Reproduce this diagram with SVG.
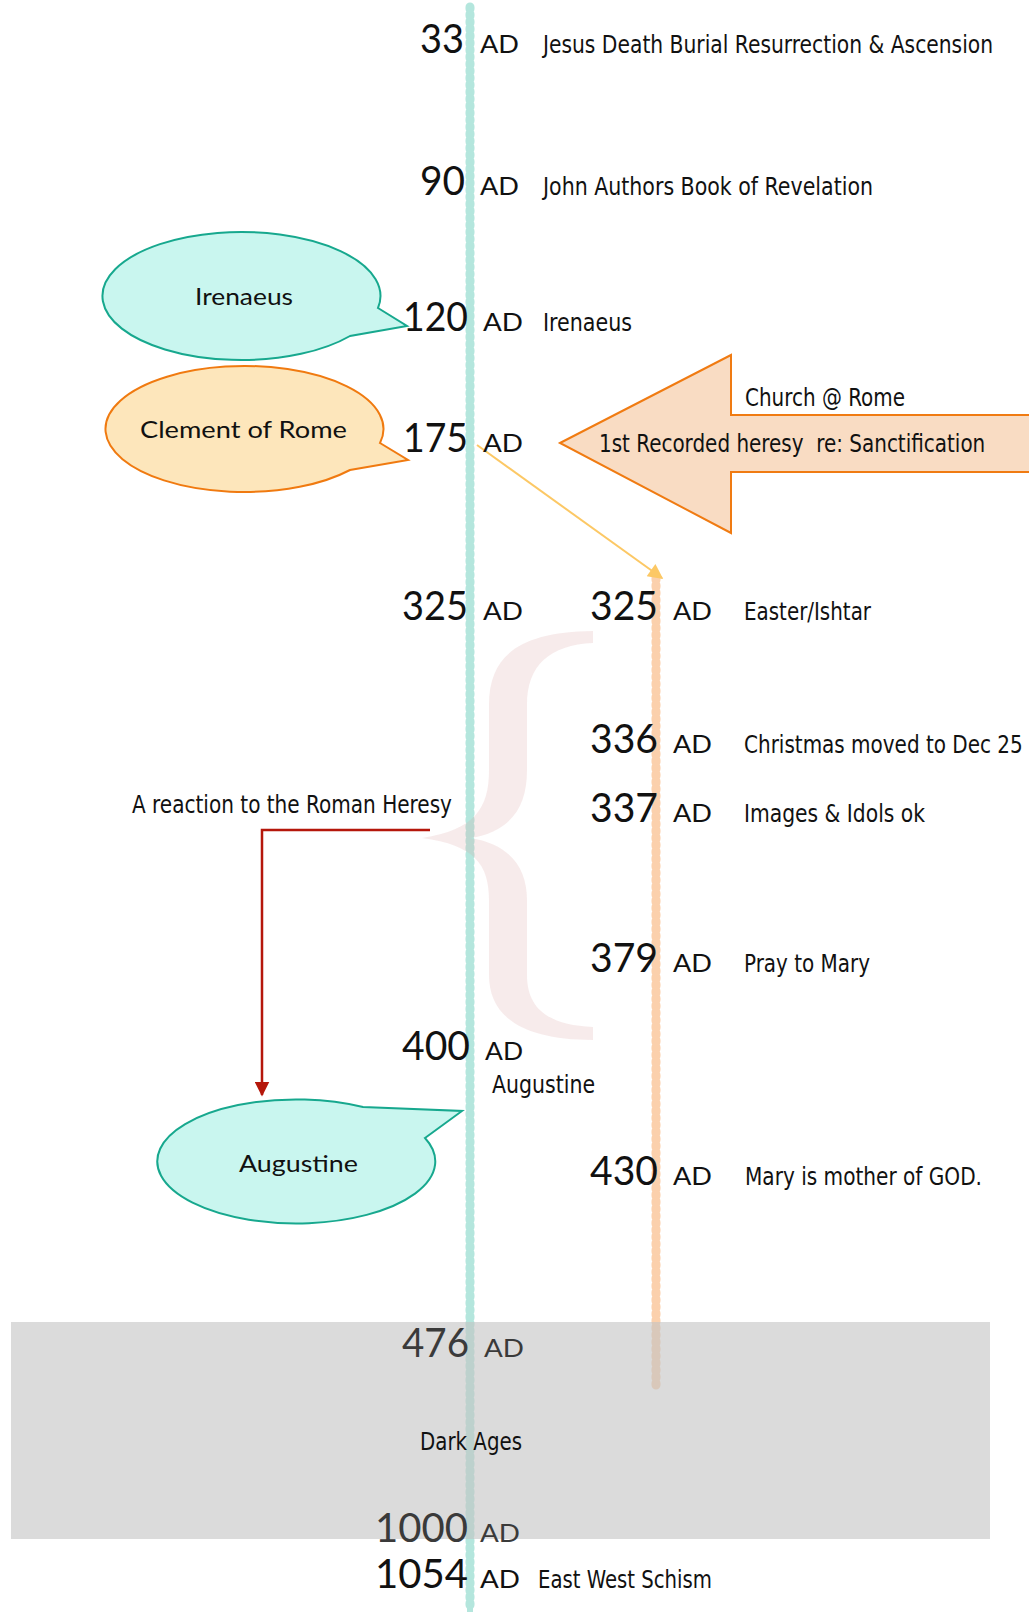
<svg xmlns="http://www.w3.org/2000/svg" width="1029" height="1612" viewBox="0 0 1029 1612">
<style>
.yr{font-family:Lato,"Noto Sans",sans-serif;font-size:41px;fill:#111}
.ad{font-family:Lato,"Noto Sans",sans-serif;font-size:25px;fill:#111}
.cd{font-family:"Liberation Sans Narrow","DejaVu Sans Condensed","Liberation Sans",Arial,sans-serif;font-size:25px;fill:#111}
.bt{font-family:Lato,"Noto Sans",sans-serif;font-size:24px;fill:#111}
.gr{fill:#3a3a3a}
</style>
<defs>
<marker id="ya" viewBox="0 0 10 10" refX="9" refY="5" markerWidth="17" markerHeight="15" markerUnits="userSpaceOnUse" orient="auto"><path d="M0,0 L10,5 L0,10 Z" fill="#fcc865"/></marker>
<marker id="ra" viewBox="0 0 10 10" refX="9" refY="5" markerWidth="15" markerHeight="15" markerUnits="userSpaceOnUse" orient="auto"><path d="M0,0 L10,5 L0,10 Z" fill="#b5170b"/></marker>
</defs>
<rect width="1029" height="1612" fill="#ffffff"/>

<g id="timelines">
<line x1="470" y1="5" x2="470" y2="1612" stroke="#b4e6dd" stroke-width="6"/>
<line x1="470" y1="7" x2="470" y2="1610" stroke="#b4e6dd" stroke-width="9" stroke-dasharray="2 5" stroke-linecap="round"/>
<line x1="656" y1="576" x2="656" y2="1388" stroke="#fbd0ac" stroke-width="6"/>
<line x1="656" y1="578" x2="656" y2="1386" stroke="#fbd0ac" stroke-width="9" stroke-dasharray="2 5" stroke-linecap="round"/>
</g>

<g id="brace">
<path d="M593 631 L593 643 C550 645 527 665 527 705 L527 770 C527 808 510 832 470 838 C510 844 527 868 527 900 L527 975 C527 1010 550 1025 593 1027 L593 1040 C520 1040 489 1015 489 975 L489 900 C489 865 475 845 422 838 C475 830 489 808 489 770 L489 705 C489 655 520 632 593 631 Z" fill="#d9a3a3" opacity="0.22"/>
</g>

<g id="dark-ages">
<rect x="11" y="1322" width="979" height="217" fill="#c3c3c3" opacity="0.6"/>
</g>

<g id="connectors">
<line x1="477" y1="445" x2="662" y2="578" stroke="#fcc865" stroke-width="2" marker-end="url(#ya)"/>
<path d="M430 830 H262 V1095" fill="none" stroke="#b5170b" stroke-width="2.5" marker-end="url(#ra)"/>
</g>

<g id="church-rome-arrow">
<polygon points="560,443 731,355 731,415 1035,415 1035,472 731,472 731,533" fill="#f9dcc3" stroke="#f07b12" stroke-width="2"/>
<text class="cd" x="745" y="406" textLength="160" lengthAdjust="spacingAndGlyphs">Church @ Rome</text>
<text class="cd" transform="translate(599 452) scale(0.74 1)" x="0" y="0" textLength="522" lengthAdjust="spacingAndGlyphs" xml:space="preserve">1st Recorded heresy  re: Sanctification</text>
</g>

<g id="bubble-irenaeus">
<path d="M378 308 L407 326 L350 336 A139 64 0 1 1 378 308 Z" fill="#c9f6ef" stroke="#17a88e" stroke-width="2"/>
<text class="bt" x="195" y="305" textLength="98" lengthAdjust="spacingAndGlyphs">Irenaeus</text>
</g>

<g id="bubble-clement">
<path d="M380 443 L408 460 L350 470 A139 63 0 1 1 380 443 Z" fill="#fde6bb" stroke="#f07a10" stroke-width="2"/>
<text class="bt" x="140" y="438" textLength="207" lengthAdjust="spacingAndGlyphs">Clement of Rome</text>
</g>

<g id="bubble-augustine">
<path d="M425 1138 L462 1111 L363 1107 A139 62 0 1 0 425 1138 Z" fill="#c9f6ef" stroke="#17a88e" stroke-width="2"/>
<text class="bt" x="239" y="1172" textLength="119" lengthAdjust="spacingAndGlyphs">Augustine</text>
</g>

<g id="e33">
<text class="yr" x="420" y="53" textLength="44" lengthAdjust="spacingAndGlyphs">33</text>
<text class="ad" x="480" y="53" textLength="39" lengthAdjust="spacingAndGlyphs">AD</text>
<text class="cd" transform="translate(543 53) scale(0.78 1)" x="0" y="0" textLength="577" lengthAdjust="spacingAndGlyphs">Jesus Death Burial Resurrection &amp; Ascension</text>
</g>
<g id="e90">
<text class="yr" x="420" y="195" textLength="45" lengthAdjust="spacingAndGlyphs">90</text>
<text class="ad" x="480" y="195" textLength="39" lengthAdjust="spacingAndGlyphs">AD</text>
<text class="cd" x="543" y="195" textLength="330" lengthAdjust="spacingAndGlyphs">John Authors Book of Revelation</text>
</g>
<g id="e120">
<text class="yr" x="403" y="331" textLength="65" lengthAdjust="spacingAndGlyphs">120</text>
<text class="ad" x="483" y="331" textLength="40" lengthAdjust="spacingAndGlyphs">AD</text>
<text class="cd" x="543" y="331" textLength="89" lengthAdjust="spacingAndGlyphs">Irenaeus</text>
</g>
<g id="e175">
<text class="yr" x="403" y="452" textLength="65" lengthAdjust="spacingAndGlyphs">175</text>
<text class="ad" x="483" y="452" textLength="40" lengthAdjust="spacingAndGlyphs">AD</text>
</g>
<g id="e325a">
<text class="yr" x="402" y="620" textLength="66" lengthAdjust="spacingAndGlyphs">325</text>
<text class="ad" x="483" y="620" textLength="40" lengthAdjust="spacingAndGlyphs">AD</text>
</g>
<g id="e325b">
<text class="yr" x="590" y="620" textLength="68" lengthAdjust="spacingAndGlyphs">325</text>
<text class="ad" x="673" y="620" textLength="39" lengthAdjust="spacingAndGlyphs">AD</text>
<text class="cd" x="744" y="620" textLength="127" lengthAdjust="spacingAndGlyphs">Easter/Ishtar</text>
</g>
<g id="e336">
<text class="yr" x="590" y="753" textLength="68" lengthAdjust="spacingAndGlyphs">336</text>
<text class="ad" x="673" y="753" textLength="39" lengthAdjust="spacingAndGlyphs">AD</text>
<text class="cd" transform="translate(744 753) scale(0.85 1)" x="0" y="0" textLength="328" lengthAdjust="spacingAndGlyphs">Christmas moved to Dec 25</text>
</g>
<g id="e337">
<text class="yr" x="590" y="822" textLength="68" lengthAdjust="spacingAndGlyphs">337</text>
<text class="ad" x="673" y="822" textLength="39" lengthAdjust="spacingAndGlyphs">AD</text>
<text class="cd" x="744" y="822" textLength="181" lengthAdjust="spacingAndGlyphs">Images &amp; Idols ok</text>
</g>
<g id="e379">
<text class="yr" x="590" y="972" textLength="68" lengthAdjust="spacingAndGlyphs">379</text>
<text class="ad" x="673" y="972" textLength="39" lengthAdjust="spacingAndGlyphs">AD</text>
<text class="cd" x="744" y="972" textLength="126" lengthAdjust="spacingAndGlyphs">Pray to Mary</text>
</g>
<g id="reaction-label">
<text class="cd" x="132" y="813" textLength="320" lengthAdjust="spacingAndGlyphs">A reaction to the Roman Heresy</text>
</g>
<g id="e400">
<text class="yr" x="402" y="1060" textLength="68" lengthAdjust="spacingAndGlyphs">400</text>
<text class="ad" x="485" y="1060" textLength="38" lengthAdjust="spacingAndGlyphs">AD</text>
<text class="cd" x="492" y="1093" textLength="103" lengthAdjust="spacingAndGlyphs">Augustine</text>
</g>
<g id="e430">
<text class="yr" x="590" y="1185" textLength="68" lengthAdjust="spacingAndGlyphs">430</text>
<text class="ad" x="673" y="1185" textLength="39" lengthAdjust="spacingAndGlyphs">AD</text>
<text class="cd" x="745" y="1185" textLength="237" lengthAdjust="spacingAndGlyphs">Mary is mother of GOD.</text>
</g>
<g id="e476">
<text class="yr gr" x="402" y="1357" textLength="67" lengthAdjust="spacingAndGlyphs">476</text>
<text class="ad gr" x="484" y="1357" textLength="40" lengthAdjust="spacingAndGlyphs">AD</text>
</g>
<g id="dark-ages-label">
<text class="cd" x="420" y="1450" textLength="102" lengthAdjust="spacingAndGlyphs">Dark Ages</text>
</g>
<g id="e1000">
<text class="yr gr" x="375" y="1542" textLength="93" lengthAdjust="spacingAndGlyphs">1000</text>
<text class="ad gr" x="480" y="1542" textLength="40" lengthAdjust="spacingAndGlyphs">AD</text>
</g>
<g id="e1054">
<text class="yr" x="375" y="1588" textLength="93" lengthAdjust="spacingAndGlyphs">1054</text>
<text class="ad" x="480" y="1588" textLength="40" lengthAdjust="spacingAndGlyphs">AD</text>
<text class="cd" x="538" y="1588" textLength="174" lengthAdjust="spacingAndGlyphs">East West Schism</text>
</g>
</svg>
